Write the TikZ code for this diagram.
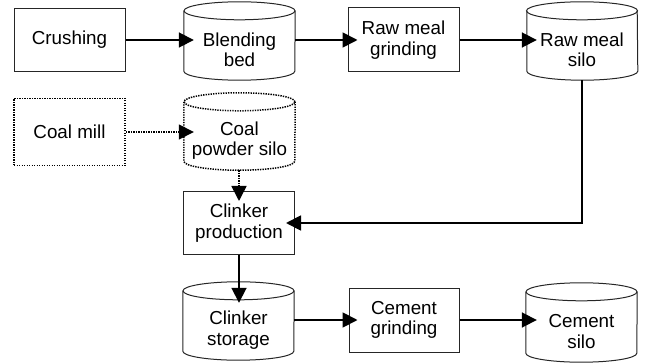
\documentclass[tikz,border=0pt]{standalone}
\usepackage{fontspec}
\setmainfont{Liberation Sans}
\usetikzlibrary{arrows.meta}

\begin{document}
\begin{tikzpicture}[x=1pt, y=-1pt,
  every node/.style={font=\fontsize{18.8}{20.5}\selectfont, align=center, inner sep=0pt},
  procbox/.style={draw=black!85, line width=1pt, minimum width=111pt},
  dotbox/.style={draw=black, line width=1.5pt, dash pattern=on 1.4pt off 1.1pt, minimum width=111pt},
  silobody/.style={minimum width=111pt, minimum height=60pt},
  siloline/.style={draw=black!85, line width=1pt},
  dotline/.style={draw=black, line width=1.5pt, dash pattern=on 1.4pt off 1.1pt},
  flow/.style={draw=black, line width=1.8pt, -{Triangle[length=15pt, width=15pt]}, shorten >=-10pt},
  dotflow/.style={flow, line width=1.6pt, dash pattern=on 1.4pt off 1.1pt},
]
\useasboundingbox (0,0) rectangle (652,363);

% process steps
\node[procbox, minimum height=63pt] (crush)    at (69.5,40)   {Crushing};
\node[procbox, minimum height=64pt] (grind)    at (403.5,40)  {Raw meal\\grinding};
\node[dotbox,  minimum height=67pt] (coalmill) at (69.5,132)  {Coal mill};
\node[procbox, minimum height=63pt] (clinker)  at (239,223)   {Clinker\\production};
\node[procbox, minimum height=64pt, minimum width=110pt] (cemgrind) at (404,320) {Cement\\grinding};

% silos: the node is the visible body below the top ellipse
\node[silobody] (blend)    at (239.5,50)   {Blending\\bed};
\node[silobody, minimum width=110pt] (rawsilo)  at (582,50) {Raw meal\\silo};
\node[silobody, minimum height=59pt] (coalsilo) at (239.5,140.5) {Coal\\powder silo};
\node[silobody] (storage)  at (238.5,330)  {Clinker\\storage};
\node[silobody, minimum height=61pt] (cemsilo)  at (581.5,331.5) {Cement\\silo};

% cylinder outlines
\foreach \s/\st in {blend/siloline, rawsilo/siloline, coalsilo/dotline, storage/siloline, cemsilo/siloline} {
  \path[\st] ([yshift=9pt]\s.north) ellipse [x radius=55.5pt, y radius=9pt];
  \path[\st] ([yshift=9pt]\s.north west) -- ([yshift=9pt]\s.south west)
    arc[start angle=180, end angle=360, x radius=55.5pt, y radius=9pt]
    -- ([yshift=9pt]\s.north east);
}

% material flow
\draw[flow] (crush.east) -- (crush.east -| blend.west);
\draw[flow] (blend.east |- grind.west) -- (grind.west);
\draw[flow] (grind.east) -- (grind.east -| rawsilo.west);
\draw[flow, shorten >=-9pt] (rawsilo.south) |- (clinker.east);
\draw[dotflow] (coalmill.east) -- (coalmill.east -| coalsilo.west);
\draw[dotflow] (coalsilo.south -| clinker.north) -- (clinker.north);
\draw[flow, shorten >=-3pt] (clinker.south) -- (clinker.south |- storage.north);
\draw[flow, shorten >=-9pt] (storage.east |- cemgrind.west) -- (cemgrind.west);
\draw[flow, shorten >=-11pt] (cemgrind.east) -- (cemgrind.east -| cemsilo.west);
\end{tikzpicture}
\end{document}
